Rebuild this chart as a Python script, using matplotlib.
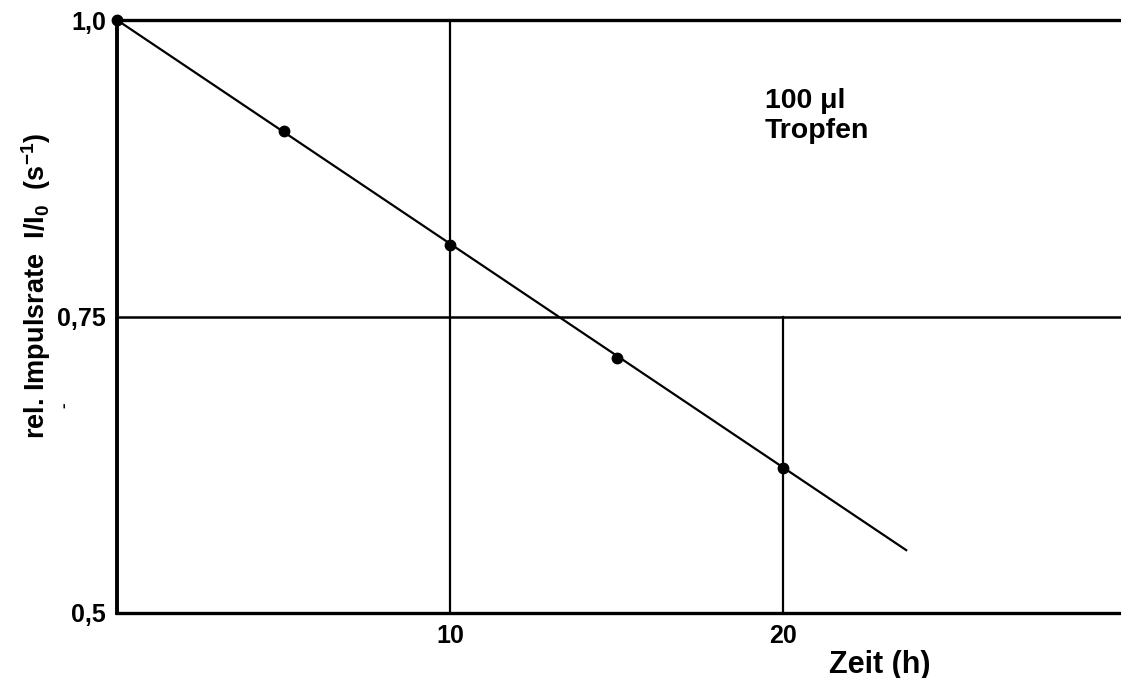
import matplotlib
matplotlib.use("Agg")
import matplotlib.pyplot as plt

# Messpunkte
zeit = [0, 5, 10, 15, 20]
rate = [1.0, 0.906, 0.810, 0.715, 0.622]

# Ausgleichsgerade
fit_t = [0, 23.7]
fit_y = [1.0, 0.553]

x_ticks = [10, 20]
x_labels = ["10", "20"]
y_ticks = [0.5, 0.75, 1.0]
y_labels = ["0,5", "0,75", "1,0"]

plt.rcParams['font.family'] = ['Liberation Sans', 'DejaVu Sans']
plt.rcParams['font.weight'] = 'bold'
plt.rcParams['mathtext.fontset'] = 'custom'
plt.rcParams['mathtext.rm'] = 'Liberation Sans:bold'
plt.rcParams['mathtext.it'] = 'Liberation Sans:bold'
plt.rcParams['mathtext.bf'] = 'Liberation Sans:bold'

W, H = 1121, 678
fig = plt.figure(figsize=(W / 100, H / 100), dpi=100)
ax = fig.add_axes([117 / W, 1 - 613 / H, 1 - 117 / W, (613 - 20) / H])

ax.set_xlim(0, 30.15)
ax.set_ylim(0.5, 1.0)

# Rahmen
ax.spines['right'].set_visible(False)
ax.spines['left'].set_linewidth(2.8)
ax.spines['bottom'].set_linewidth(2.4)
ax.spines['top'].set_linewidth(2.4)

# Gitterlinien
ax.axhline(0.75, color='black', lw=1.8)
ax.axvline(10, color='black', lw=1.6)
ax.plot([20, 20], [0.5, 0.75], color='black', lw=1.6)

ax.plot(fit_t, fit_y, color='black', lw=1.6)
ax.plot(zeit, rate, 'o', color='black', ms=7.5, clip_on=False, zorder=5)

ax.set_xticks(x_ticks)
ax.set_xticklabels(x_labels, fontsize=18, fontweight='bold')
ax.set_yticks(y_ticks)
ax.set_yticklabels(y_labels, fontsize=18, fontweight='bold')
ax.tick_params(axis='both', length=0)
ax.tick_params(axis='x', pad=8)
ax.tick_params(axis='y', pad=8)

ax.text(765 / W, 1 - 101 / H, "100 μl", transform=fig.transFigure,
        fontsize=20.5, fontweight='bold', va='center', ha='left')
ax.text(765 / W, 1 - 131 / H, "Tropfen", transform=fig.transFigure,
        fontsize=20.5, fontweight='bold', va='center', ha='left')

fig.text(880 / W, 1 - 665 / H, "Zeit (h)", fontsize=22, fontweight='bold',
         ha='center', va='center')
fig.text(36 / W, 1 - 286 / H, r"rel. Impulsrate  I/I$_0$  (s$^{-1}$)",
         fontsize=19.5, fontweight='bold', rotation=90, ha='center', va='center')
fig.text(64 / W, 1 - 405 / H, "-", fontsize=12, fontweight='bold',
         rotation=90, ha='center', va='center')

fig.savefig("out.png", dpi=100)
